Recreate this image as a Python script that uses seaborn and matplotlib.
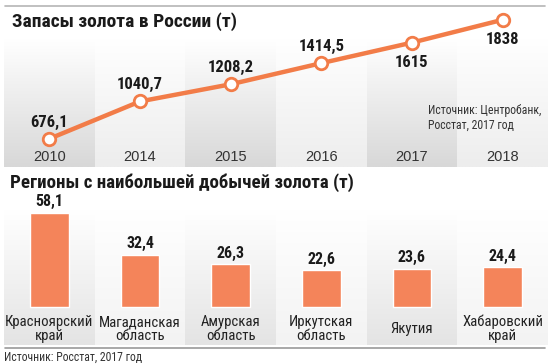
import numpy as np
import matplotlib
matplotlib.use("Agg")
import matplotlib.pyplot as plt
from matplotlib import font_manager
from matplotlib.colors import LinearSegmentedColormap
import matplotlib.transforms as mtransforms
import seaborn as sns

years = ["2010", "2014", "2015", "2016", "2017", "2018"]
reserves = [676.1, 1040.7, 1208.2, 1414.5, 1615, 1838]
reserve_labels = ["676,1", "1040,7", "1208,2", "1414,5", "1615", "1838"]
label_below = [False, False, False, False, True, True]

regions = ["Красноярский\nкрай", "Магаданская\nобласть", "Амурская\nобласть",
           "Иркутская\nобласть", "Якутия", "Хабаровский\nкрай"]
output = [58.1, 32.4, 26.3, 22.6, 23.6, 24.4]
output_labels = ["58,1", "32,4", "26,3", "22,6", "23,6", "24,4"]

sns.set_theme(style="white")
names = {f.name for f in font_manager.fontManager.ttflist}
narrow = next((n for n in ["Roboto Condensed", "Liberation Sans Narrow", "Fira Sans Condensed"]
               if n in names), "DejaVu Sans")
plt.rcParams["font.family"] = [narrow, "DejaVu Sans"]

ORANGE = "#f27c48"
BAR = "#f4845a"
W, H = 550, 364

fig = plt.figure(figsize=(W / 100, H / 100), dpi=100)
fig.patch.set_facecolor("white")


def px_axes(left, top, width, height):
    return fig.add_axes([left / W, 1 - (top + height) / H, width / W, height / H])


def column_bg(ax, y0, y1, dark, light):
    grad = np.linspace(0, 1, 100).reshape(-1, 1)
    for i in range(6):
        end = dark if i % 2 == 0 else light
        cmap = LinearSegmentedColormap.from_list("g", ["white", end])
        ax.imshow(grad, cmap=cmap, aspect="auto", origin="upper",
                  extent=(i - 0.5, i + 0.5, y0, y1), zorder=0, vmin=0, vmax=1)


# --- top chart: gold reserves ---
ax = px_axes(4, 8, 544, 159)
column_bg(ax, 400.4, 1660, "#d8d8d8", "#ededed")
x = np.arange(len(years))
sns.lineplot(x=x, y=reserves, ax=ax, color=ORANGE, lw=3.2, marker="o",
             markersize=9, markerfacecolor="white", markeredgecolor=ORANGE,
             markeredgewidth=2, zorder=3)
ax.set_xlim(-0.5, 5.5)
ax.set_ylim(400.4, 1953)
ax.axis("off")
for xi, v, lab, below in zip(x, reserves, reserve_labels, label_below):
    ax.annotate(lab, (xi, v), xytext=(0, -14 if below else 12),
                textcoords="offset points", ha="center", va="center",
                fontsize=12, fontweight="bold", color="#1a1a1a")
tr = mtransforms.blended_transform_factory(ax.transData, ax.transAxes)
for xi, y in zip(x, years):
    ax.text(xi, 0.063, y, transform=tr, ha="center", va="center",
            fontsize=10.5, color="#333333", family=["Liberation Sans", "DejaVu Sans"])
ax.text(428 / W, 1 - 118 / H, "Источник: Центробанк,\nРосстат, 2017 год",
        transform=fig.transFigure, ha="left", va="center", fontsize=8.5,
        color="#333333", linespacing=1.15)

# --- bottom chart: regions ---
ax2 = px_axes(4, 195, 544, 150)
column_bg(ax2, -23.5, 60, "#e4e4e4", "#f3f3f3")
sns.barplot(x=list(range(6)), y=output, ax=ax2, color=BAR, saturation=1,
            width=0.43, zorder=2)
ax2.set_xlim(-0.5, 5.5)
ax2.set_ylim(-23.5, 69.2)
ax2.axis("off")
for xi, v, lab in zip(range(6), output, output_labels):
    ax2.annotate(lab, (xi, v), xytext=(0, 8), textcoords="offset points",
                 ha="center", va="center", fontsize=11.5, fontweight="bold",
                 color="#1a1a1a")
tr2 = mtransforms.blended_transform_factory(ax2.transData, ax2.transAxes)
for xi, r in enumerate(regions):
    ax2.text(xi, 0.107, r, transform=tr2, ha="center", va="center",
             fontsize=10.6, color="#222222", linespacing=0.98)

# titles, rules, source
fig.text(12 / W, 1 - 22 / H, "Запасы золота в России (т)", ha="left", va="center",
         fontsize=14, fontweight="bold", color="#1a1a1a")
fig.text(10 / W, 1 - 183 / H, "Регионы с наибольшей добычей золота (т)",
         ha="left", va="center", fontsize=13.6, fontweight="bold", color="#1a1a1a")
fig.add_artist(plt.Line2D([5 / W, 545 / W], [1 - 6 / H, 1 - 6 / H],
                          color="#b5b5b5", lw=1.2, transform=fig.transFigure))
fig.add_artist(plt.Line2D([5 / W, 545 / W], [1 - 348 / H, 1 - 348 / H],
                          color="#9a9a9a", lw=1.2, transform=fig.transFigure))
fig.text(4 / W, 1 - 357 / H, "Источник: Росстат, 2017 год", ha="left", va="center",
         fontsize=8.5, color="#333333")

fig.savefig("out.png", dpi=100)
